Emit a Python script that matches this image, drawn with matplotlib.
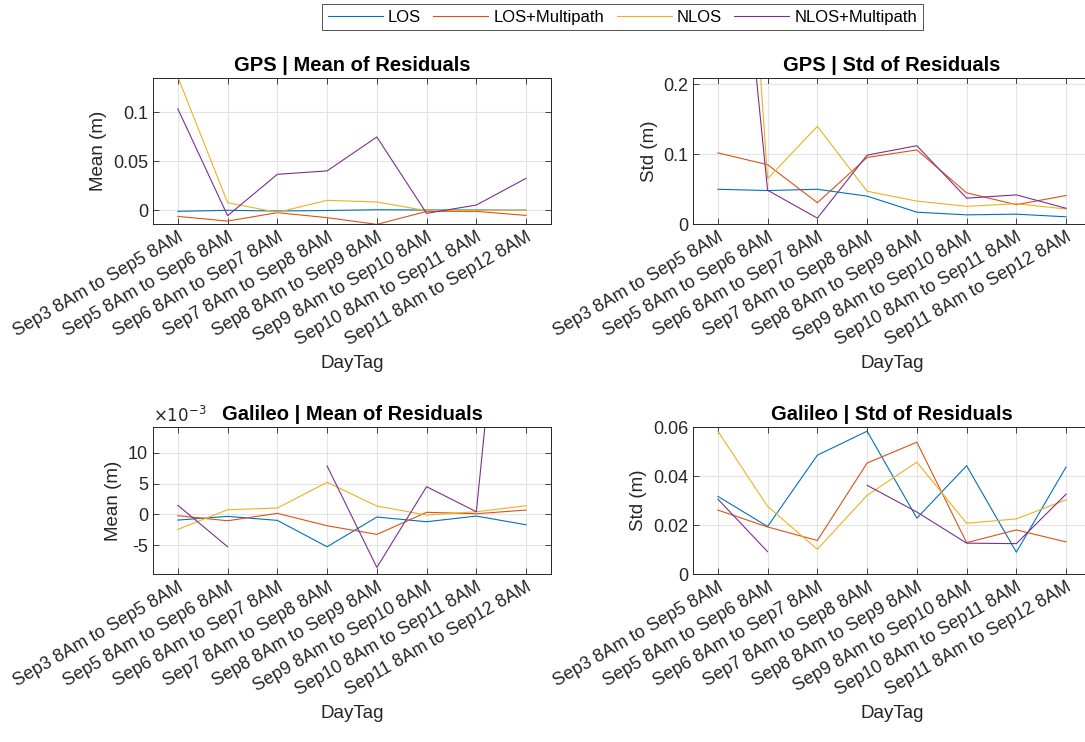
import numpy as np
import matplotlib
matplotlib.use("Agg")
import matplotlib.pyplot as plt
from matplotlib.ticker import FuncFormatter

plt.rcParams['font.family'] = ['Liberation Sans', 'DejaVu Sans']
plt.rcParams['axes.unicode_minus'] = False

day_tags = ['Sep3 8Am to Sep5 8AM', 'Sep5 8Am to Sep6 8AM', 'Sep6 8Am to Sep7 8AM',
            'Sep7 8Am to Sep8 8AM', 'Sep8 8Am to Sep9 8AM', 'Sep9 8Am to Sep10 8AM',
            'Sep10 8Am to Sep11 8AM', 'Sep11 8Am to Sep12 8AM']
series_names = ['LOS', 'LOS+Multipath', 'NLOS', 'NLOS+Multipath']
colors = ['#0072BD', '#D95319', '#EDB120', '#7E2F8E']

# GPS mean of residuals (m)
gps_mean_los = [-0.0013, -0.0003, -0.0010, -0.0005, 0.0003, 0.0000, 0.0000, -0.0002]
gps_mean_los_mp = [-0.0065, -0.0113, -0.0027, -0.0078, -0.0147, -0.0014, -0.0014, -0.0055]
gps_mean_nlos = [0.136, 0.0075, -0.0024, 0.0099, 0.0082, -0.0007, -0.0005, -0.0003]
gps_mean_nlos_mp = [0.1034, -0.0058, 0.0365, 0.0400, 0.0747, -0.0034, 0.0051, 0.0324]

# GPS std of residuals (m)
gps_std_los = [0.0497, 0.0479, 0.0497, 0.0399, 0.0169, 0.0131, 0.0141, 0.0103]
gps_std_los_mp = [0.1018, 0.0849, 0.0305, 0.0953, 0.1060, 0.0446, 0.0277, 0.0408]
gps_std_nlos = [1.10, 0.0648, 0.1398, 0.0469, 0.0328, 0.0253, 0.0290, 0.0215]
gps_std_nlos_mp = [0.76, 0.0483, 0.0084, 0.0986, 0.1121, 0.0370, 0.0417, 0.0225]

# Galileo mean of residuals (m)
gal_mean_los = [-0.00093, -0.00033, -0.00098, -0.00527, -0.00044, -0.00120, -0.00028, -0.00169]
gal_mean_los_mp = [-0.00022, -0.00104, 0.00016, -0.00185, -0.00326, 0.00033, 0.00010, 0.00070]
gal_mean_nlos = [-0.00244, 0.00075, 0.00103, 0.00521, 0.00135, -0.00011, 0.00042, 0.00140]
gal_mean_nlos_mp = [0.00147, -0.00527, np.nan, 0.00787, -0.00863, 0.00450, 0.00042, 0.081]

# Galileo std of residuals (m)
gal_std_los = [0.0317, 0.0194, 0.0485, 0.0583, 0.0228, 0.0442, 0.0089, 0.0437]
gal_std_los_mp = [0.0261, 0.0192, 0.0137, 0.0453, 0.0538, 0.0128, 0.0180, 0.0131]
gal_std_nlos = [0.0583, 0.0276, 0.0101, 0.0321, 0.0457, 0.0207, 0.0225, 0.0303]
gal_std_nlos_mp = [0.0306, 0.0091, np.nan, 0.0362, 0.0253, 0.0126, 0.0124, 0.0326]

panels = [
    ('GPS | Mean of Residuals', 'Mean (m)',
     [gps_mean_los, gps_mean_los_mp, gps_mean_nlos, gps_mean_nlos_mp],
     (-0.0143, 0.135), [0, 0.05, 0.1], [0.1410, 0.6981, 0.3668, 0.1968]),
    ('GPS | Std of Residuals', 'Std (m)',
     [gps_std_los, gps_std_los_mp, gps_std_nlos, gps_std_nlos_mp],
     (0, 0.209), [0, 0.1, 0.2], [0.6387, 0.6981, 0.3668, 0.1968]),
    ('Galileo | Mean of Residuals', 'Mean (m)',
     [gal_mean_los, gal_mean_los_mp, gal_mean_nlos, gal_mean_nlos_mp],
     (-0.0097, 0.0142), [-0.005, 0, 0.005, 0.01], [0.1410, 0.2264, 0.3668, 0.1981]),
    ('Galileo | Std of Residuals', 'Std (m)',
     [gal_std_los, gal_std_los_mp, gal_std_nlos, gal_std_nlos_mp],
     (0, 0.06), [0, 0.02, 0.04, 0.06], [0.6387, 0.2264, 0.3668, 0.1981]),
]

fig = plt.figure(figsize=(10.85, 7.42), dpi=100)
x = np.arange(1, len(day_tags) + 1)
edge = '#262626'

handles = []
for i, (title, ylab, series, ylim, yticks, pos) in enumerate(panels):
    ax = fig.add_axes(pos)
    for vals, c, name in zip(series, colors, series_names):
        ln, = ax.plot(x, vals, color=c, lw=0.8, label=name)
        if i == 0:
            handles.append(ln)
    ax.set_xlim(0.5, 8.5)
    ax.set_ylim(*ylim)
    ax.set_xticks(x)
    ax.set_xticklabels(day_tags, rotation=30, ha='right', va='top',
                       rotation_mode='anchor')
    ax.set_yticks(yticks)
    if i == 2:
        ax.yaxis.set_major_formatter(FuncFormatter(lambda v, p: f'{v * 1e3:g}'))
        ax.text(0, 1.015, r'$\times10^{-3}$', transform=ax.transAxes,
                fontsize=12, color=edge, ha='left', va='bottom')
    else:
        ax.yaxis.set_major_formatter(FuncFormatter(lambda v, p: f'{v:g}'))
    ax.grid(True, color='#e3e3e3', lw=0.8)
    ax.set_axisbelow(True)
    ax.tick_params(direction='in', top=True, right=True, length=4,
                   labelsize=13, colors=edge, width=0.6)
    for s in ax.spines.values():
        s.set_color(edge)
        s.set_linewidth(0.7)
    ax.set_title(title, fontsize=14.5, fontweight='bold', pad=5)
    ax.set_ylabel(ylab, fontsize=13.5, color=edge)
    ax.set_xlabel('DayTag', fontsize=13.5, color=edge)

leg = fig.legend(handles=handles, loc='center', bbox_to_anchor=(0.5737, 0.977),
                 ncol=4, fontsize=12, frameon=True, fancybox=False,
                 handlelength=3.3, columnspacing=0.75, handletextpad=0.3,
                 borderpad=0.35, borderaxespad=0)
leg.get_frame().set_edgecolor(edge)
leg.get_frame().set_linewidth(0.7)

fig.savefig('out.png', dpi=100)
